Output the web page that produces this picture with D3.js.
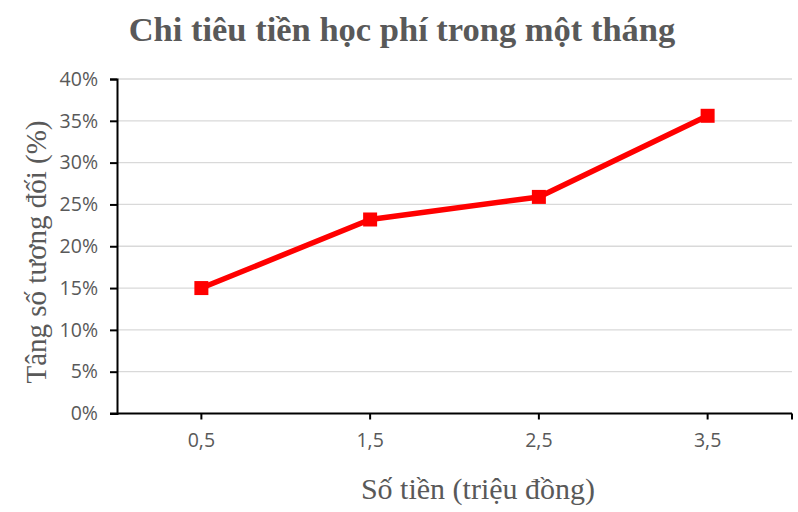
<!DOCTYPE html>
<html><head><meta charset="utf-8">
<script src="https://cdn.jsdelivr.net/npm/d3@7"></script>
<style>body{margin:0;background:#fff}</style>
</head><body>
<svg id="c" width="798" height="512"></svg>
<script>
const categories = ["0,5", "1,5", "2,5", "3,5"];
const values = [0.15, 0.232, 0.259, 0.356];
const yTicks = [0, 0.05, 0.10, 0.15, 0.20, 0.25, 0.30, 0.35, 0.40];
const title = "Chi tiêu tiền học phí trong một tháng";
const xTitle = "Số tiền (triệu đồng)";
const yTitle = "Tâng số tương đối (%)";

const svg = d3.select("#c");
const L = 117, R = 792, T = 79, B = 413.5;
const x = d3.scaleBand().domain(categories).range([L, R]);
const y = d3.scaleLinear().domain([0, 0.4]).range([B, T]);
const grey = "#595959";

// gridlines
svg.append("g").selectAll("line").data(yTicks.slice(1)).join("line")
  .attr("x1", L).attr("x2", R).attr("y1", d => y(d)).attr("y2", d => y(d))
  .attr("stroke", "#d9d9d9").attr("stroke-width", 1.3);

// y axis
const ya = svg.append("g").attr("transform", `translate(${L},0)`)
  .call(d3.axisLeft(y).tickValues(yTicks).tickSize(7).tickPadding(12).tickFormat(d => Math.round(d*100) + "%"));
ya.select(".domain").attr("stroke", "#000").attr("stroke-width", 2);
ya.selectAll(".tick line").attr("stroke", "#000").attr("stroke-width", 2);
ya.selectAll("text").attr("fill", grey).style("font-family", "'Open Sans', sans-serif").style("font-size", "19.5px");

// x axis
const xa = svg.append("g").attr("transform", `translate(0,${B})`)
  .call(d3.axisBottom(x).tickSize(6).tickPadding(14).tickSizeOuter(0));
xa.select(".domain").attr("stroke", "#000").attr("stroke-width", 2.2).attr("d", `M${L-7},0H${R}`);
xa.selectAll(".tick line").attr("stroke", "#000").attr("stroke-width", 2);
xa.selectAll("text").attr("fill", grey).style("font-family", "'Open Sans', sans-serif").style("font-size", "19.5px");
xa.append("line").attr("x1", R).attr("x2", R).attr("y1", 0).attr("y2", 6).attr("stroke", "#000").attr("stroke-width", 2);

// line
const cx = d => x(d) + x.bandwidth() / 2;
const data = categories.map((c, i) => ({c, v: values[i]}));
svg.append("path").datum(data)
  .attr("d", d3.line().x(d => cx(d.c)).y(d => y(d.v)))
  .attr("fill", "none").attr("stroke", "#ff0000").attr("stroke-width", 5.5).attr("stroke-linejoin", "round");
svg.append("g").selectAll("rect").data(data).join("rect")
  .attr("x", d => cx(d.c) - 7).attr("y", d => y(d.v) - 7)
  .attr("width", 14).attr("height", 14).attr("fill", "#ff0000");

// titles
svg.append("text").attr("x", 402).attr("y", 41).attr("text-anchor", "middle")
  .attr("fill", grey).style("font-family", "'Liberation Serif', serif").style("font-weight", "bold").style("font-size", "34.5px")
  .text(title);
svg.append("text").attr("x", 478).attr("y", 499).attr("text-anchor", "middle")
  .attr("fill", grey).style("font-family", "'Liberation Serif', serif").style("font-size", "30px")
  .text(xTitle);
svg.append("text").attr("transform", "translate(46,252) rotate(-90)").attr("text-anchor", "middle")
  .attr("fill", grey).style("font-family", "'Liberation Serif', serif").style("font-size", "29px")
  .text(yTitle);
</script>
</body></html>
